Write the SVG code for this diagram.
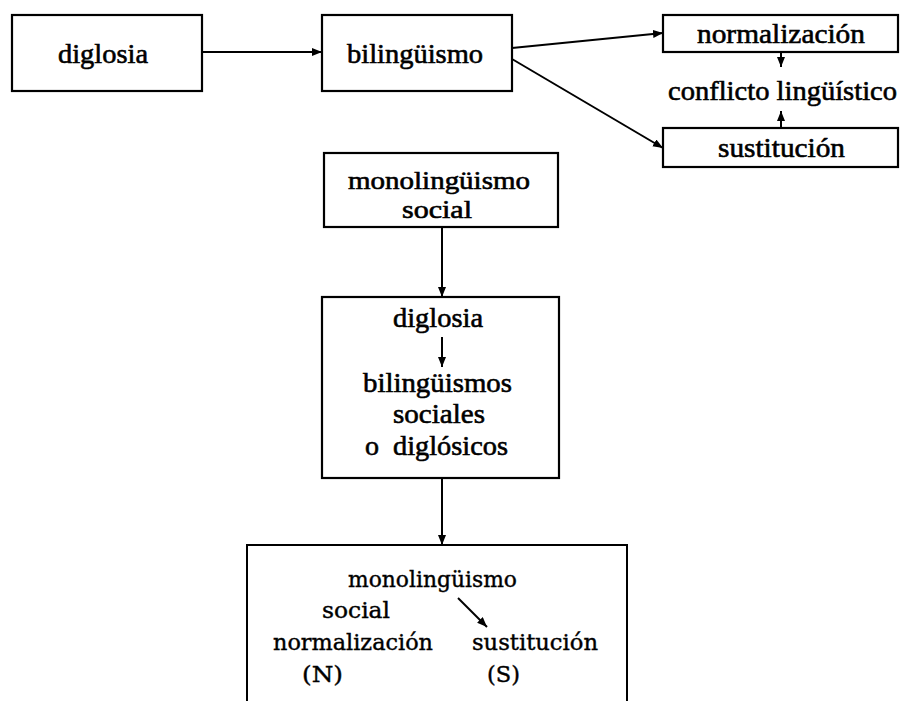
<svg xmlns="http://www.w3.org/2000/svg" width="900" height="701" viewBox="0 0 900 701">
<style>
.box{fill:#fff;stroke:#000;stroke-width:2.2}
.t{font-family:"Liberation Serif","Times New Roman",serif;font-size:28px;fill:#000;stroke:#000;stroke-width:0.6}
.s{font-size:25px}
.b{font-family:"DejaVu Serif","Liberation Serif",serif;font-size:22px;fill:#000;stroke:#000;stroke-width:0.4}
.ln{stroke:#000;stroke-width:2;fill:none}
</style>
<defs>
<marker id="ah" markerUnits="userSpaceOnUse" markerWidth="12" markerHeight="10" refX="10" refY="4" orient="auto">
<path d="M0,0 L10,4 L0,8 Z" fill="#000"/>
</marker>
</defs>
<rect width="900" height="701" fill="#fff"/>
<g id="n-diglosia">
<rect class="box" x="12" y="15" width="190" height="76"/>
<text class="t" x="58" y="63" textLength="90" lengthAdjust="spacingAndGlyphs">diglosia</text>
</g>
<g id="n-bilinguismo">
<rect class="box" x="322" y="15" width="190" height="76"/>
<text class="t" x="347" y="63" textLength="136" lengthAdjust="spacingAndGlyphs">bilingüismo</text>
</g>
<g id="n-normalizacion">
<rect class="box" x="663" y="15" width="235" height="37"/>
<text class="t" x="697" y="43" textLength="168" lengthAdjust="spacingAndGlyphs">normalización</text>
</g>
<g id="n-conflicto">
<text class="t" x="668" y="100" textLength="229" lengthAdjust="spacingAndGlyphs">conflicto lingüístico</text>
</g>
<g id="n-sustitucion">
<rect class="box" x="663" y="128" width="235" height="39"/>
<text class="t" x="718" y="157" textLength="127" lengthAdjust="spacingAndGlyphs">sustitución</text>
</g>
<g id="n-monolinguismo">
<rect class="box" x="324" y="153" width="234" height="74"/>
<text class="t s" x="348" y="189" textLength="182" lengthAdjust="spacingAndGlyphs">monolingüismo</text>
<text class="t s" x="402" y="218" textLength="70" lengthAdjust="spacingAndGlyphs">social</text>
</g>
<g id="n-diglosia-bilinguismos">
<rect class="box" x="322" y="297" width="237" height="181"/>
<text class="t" x="393" y="327" textLength="90" lengthAdjust="spacingAndGlyphs">diglosia</text>
<line class="ln" x1="442" y1="337" x2="442" y2="367" marker-end="url(#ah)"/>
<text class="t" x="363" y="392" textLength="149" lengthAdjust="spacingAndGlyphs">bilingüismos</text>
<text class="t" x="393" y="423" textLength="92" lengthAdjust="spacingAndGlyphs">sociales</text>
<text class="t" x="365" y="455">o</text>
<text class="t" x="393" y="455" textLength="115" lengthAdjust="spacingAndGlyphs">diglósicos</text>
</g>
<g id="n-resultado">
<path class="ln" d="M247,701 V545 H627 V701" stroke-width="2.2"/>
<text class="b" x="348" y="587" textLength="169" lengthAdjust="spacingAndGlyphs">monolingüismo</text>
<text class="b" x="322" y="618" textLength="68" lengthAdjust="spacingAndGlyphs">social</text>
<line class="ln" x1="458" y1="598" x2="487" y2="627" marker-end="url(#ah)"/>
<text class="b" x="273" y="650" textLength="160" lengthAdjust="spacingAndGlyphs">normalización</text>
<text class="b" x="472" y="650" textLength="126" lengthAdjust="spacingAndGlyphs">sustitución</text>
<text class="b" x="302" y="682" textLength="41" lengthAdjust="spacingAndGlyphs">(N)</text>
<text class="b" x="487" y="682" textLength="33" lengthAdjust="spacingAndGlyphs">(S)</text>
</g>
<g id="connectors">
<line class="ln" x1="202" y1="52" x2="322" y2="52" marker-end="url(#ah)"/>
<line class="ln" x1="512" y1="48" x2="663" y2="33" marker-end="url(#ah)"/>
<line class="ln" x1="512" y1="59" x2="663" y2="148" marker-end="url(#ah)"/>
<line class="ln" x1="781" y1="52" x2="781" y2="67" marker-end="url(#ah)"/>
<line class="ln" x1="781" y1="128" x2="781" y2="111" marker-end="url(#ah)"/>
<line class="ln" x1="442" y1="227" x2="442" y2="297" marker-end="url(#ah)"/>
<line class="ln" x1="442" y1="478" x2="442" y2="545" marker-end="url(#ah)"/>
</g>
</svg>
